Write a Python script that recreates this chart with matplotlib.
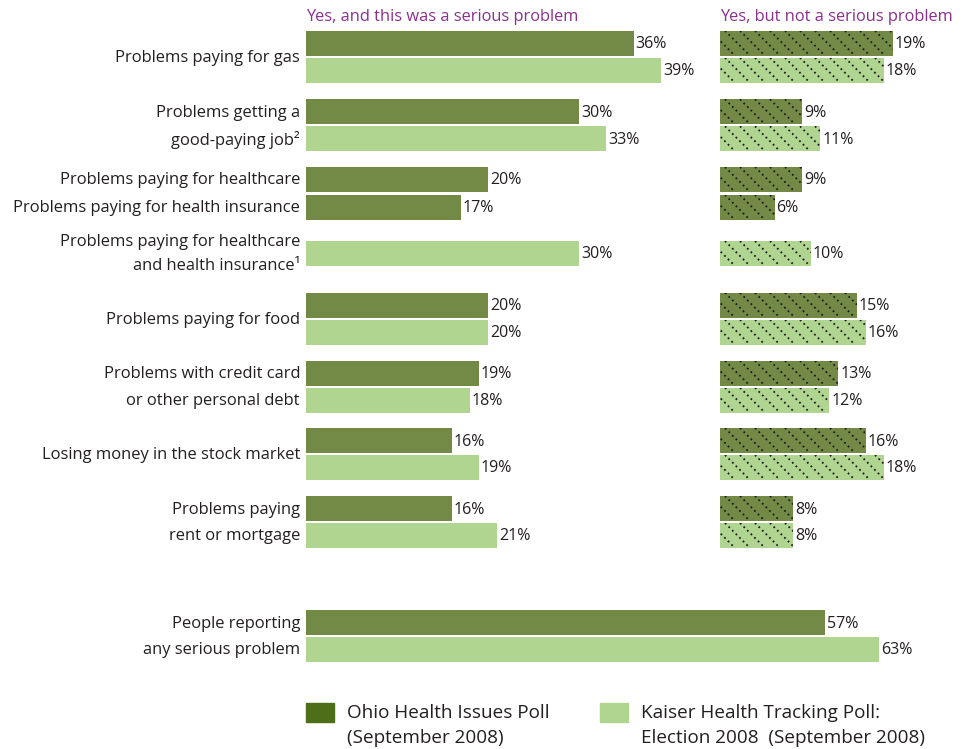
import numpy as np
import matplotlib.pyplot as plt
from matplotlib.patches import Rectangle

plt.rcParams['font.family'] = ['Open Sans', 'DejaVu Sans']

# categories (each entry is a list of text lines)
labels = [
    ['Problems paying for gas'],
    ['Problems getting a', 'good-paying job\u00b2'],
    ['Problems paying for healthcare'],
    ['Problems paying for health insurance'],
    ['Problems paying for healthcare', 'and health insurance\u00b9'],
    ['Problems paying for food'],
    ['Problems with credit card', 'or other personal debt'],
    ['Losing money in the stock market'],
    ['Problems paying', 'rent or mortgage'],
    ['People reporting', 'any serious problem'],
]

# values in percent (None = not asked in that poll)
ohio_serious = [36, 30, 20, 17, None, 20, 19, 16, 16, 57]
kaiser_serious = [39, 33, None, None, 30, 20, 18, 19, 21, 63]
ohio_not_serious = [19, 9, 9, 6, None, 15, 13, 16, 8, None]
kaiser_not_serious = [18, 11, None, None, 10, 16, 12, 18, 8, None]

header_left = 'Yes, and this was a serious problem'
header_right = 'Yes, but not a serious problem'
legend_ohio = ['Ohio Health Issues Poll', '(September 2008)']
legend_kaiser = ['Kaiser Health Tracking Poll:', 'Election 2008  (September 2008)']

# layout (pixel rows of each group centre)
group_y = [56.75, 125.25, 179.5, 207.5, 253.5, 318.75, 386.75, 454, 522, 636]
pair_off = 13.5
bar_h = 25
px_per_pct = 9.1

dark = '#728a45'
light = '#b0d590'
legend_dark = '#4e6e1a'
purple = '#8b2f8c'
txt = '#231f20'

W, H = 967, 749
fig = plt.figure(figsize=(W / 100, H / 100), dpi=100)

axL = fig.add_axes([306 / W, 0, 70 * px_per_pct / W, 1])
axR = fig.add_axes([720 / W, 0, 26 * px_per_pct / W, 1])
axL.set_xlim(0, 70)
axR.set_xlim(0, 26)
for ax in (axL, axR):
    ax.set_ylim(H, 0)
    ax.axis('off')


def positions(a, b):
    # bar centres for one group: paired or single
    out_a, out_b = [], []
    for i in range(len(a)):
        if a[i] is not None and b[i] is not None:
            out_a.append(group_y[i] - pair_off)
            out_b.append(group_y[i] + pair_off)
        else:
            out_a.append(group_y[i])
            out_b.append(group_y[i])
    return out_a, out_b


def draw_bars(ax, vals, ys, color, hatch=False):
    for v, y in zip(vals, ys):
        if v is None:
            continue
        bars = ax.barh(y, v, height=bar_h, color=color, left=0)
        ax.annotate(f'{v}%', xy=(v, y), xytext=(2, -1), textcoords='offset pixels',
                    ha='left', va='center', fontsize=11.5, color=txt)
        if hatch:
            rect = bars[0]
            step = 15 / px_per_pct
            dx = bar_h / px_per_pct
            for x0 in np.arange(-dx, v + step, step):
                ln, = ax.plot([x0, x0 + dx], [y - bar_h / 2, y + bar_h / 2],
                              color='#1c1c1c', lw=1.3, linestyle=(0, (1, 1.8)),
                              dash_capstyle='butt')
                ln.set_clip_path(rect)


# serious panel
ya, yb = positions(ohio_serious, kaiser_serious)
draw_bars(axL, ohio_serious, ya, dark)
draw_bars(axL, kaiser_serious, yb, light)

# not serious panel
draw_bars(axR, ohio_not_serious, ya, dark, hatch=True)
draw_bars(axR, kaiser_not_serious, yb, light, hatch=True)

# category labels
for i, lines in enumerate(labels):
    if len(lines) == 1:
        ys = [group_y[i]]
    elif ohio_serious[i] is not None and kaiser_serious[i] is not None:
        ys = [group_y[i] - pair_off, group_y[i] + pair_off]
    else:
        ys = [group_y[i] - 12, group_y[i] + 12]
    for line, y in zip(lines, ys):
        axL.annotate(line, xy=(0, y), xytext=(-6, -1), textcoords='offset pixels',
                     ha='right', va='center', fontsize=11.9, color=txt)

# headers
axL.annotate(header_left, xy=(0, 17), ha='left', va='center', fontsize=11.8, color=purple)
axR.annotate(header_right, xy=(0, 17), ha='left', va='center', fontsize=11.8, color=purple)

# legend
for x, col, lines in [(306, legend_dark, legend_ohio), (600, light, legend_kaiser)]:
    fig.add_artist(Rectangle((x / W, 1 - 722 / H), 28 / W, 19 / H,
                             transform=fig.transFigure, color=col))
    for j, line in enumerate(lines):
        fig.text((x + 41) / W, 1 - (713 + 25 * j) / H, line, ha='left', va='center',
                 fontsize=13.6, color=txt)

fig.savefig('out.png', dpi=100, facecolor='white')
